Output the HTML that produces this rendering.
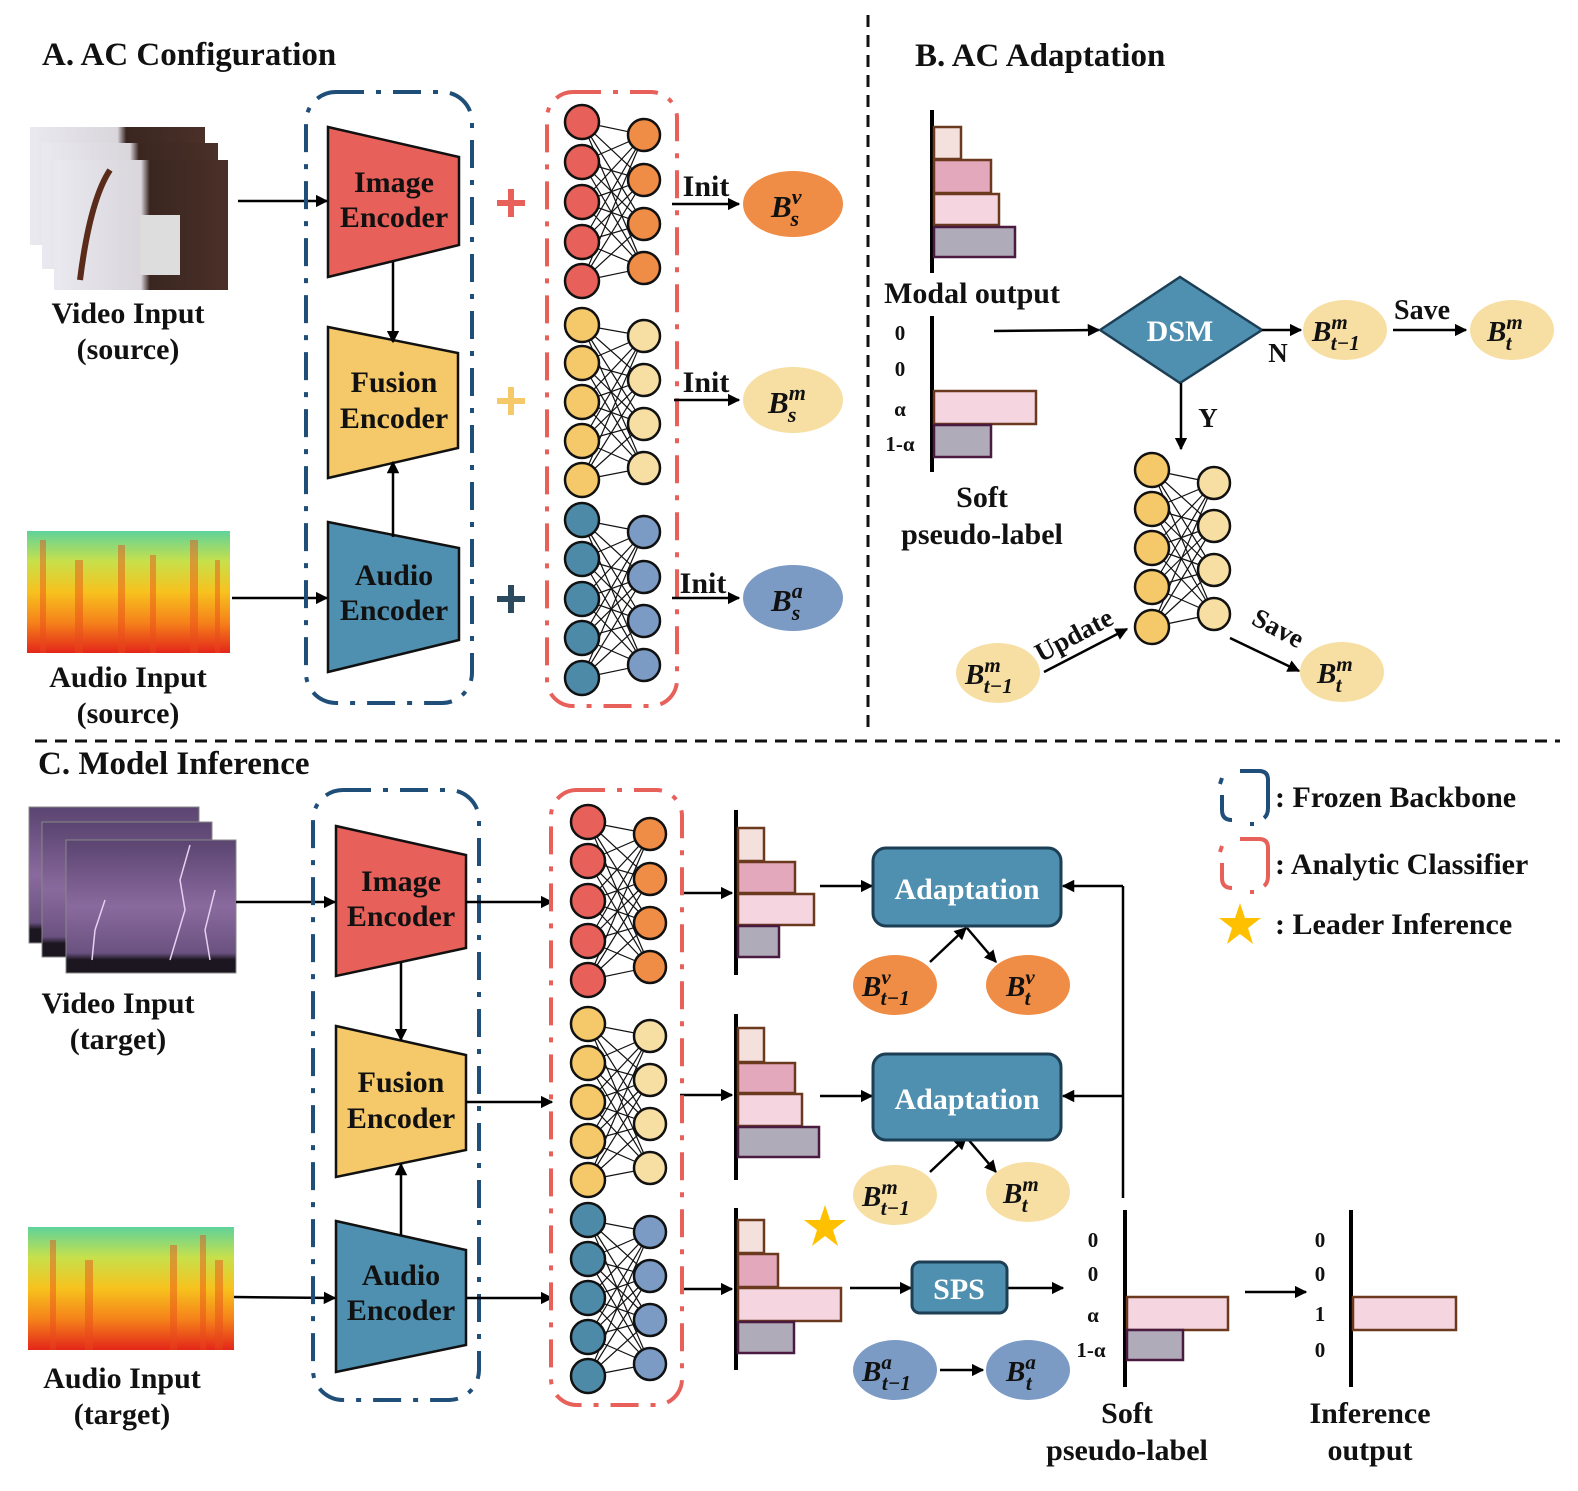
<!DOCTYPE html>
<html><head><meta charset="utf-8">
<style>
html,body{margin:0;padding:0;background:#fff;}
svg{display:block;}
text{font-family:"Liberation Serif",serif;font-weight:bold;fill:#111;}
.t{font-size:33px;}
.l{font-size:30px;}
.w{fill:#fff;}
.bi{font-style:italic;}
</style></head><body>
<svg id="s" width="1578" height="1491" viewBox="0 0 1578 1491" xmlns="http://www.w3.org/2000/svg">
<defs>
<marker id="a" viewBox="0 0 10 10" refX="9" refY="5" markerWidth="5" markerHeight="5" orient="auto"><path d="M0,0 L10,5 L0,10 z" fill="#000"/></marker>
<linearGradient id="spec" x1="0" y1="0" x2="0" y2="1">
<stop offset="0" stop-color="#5fd29a"/><stop offset="0.25" stop-color="#c8e04a"/><stop offset="0.5" stop-color="#f7c21e"/><stop offset="0.75" stop-color="#f5821a"/><stop offset="1" stop-color="#e3261a"/></linearGradient>
<linearGradient id="purp" x1="0" y1="0" x2="0" y2="1">
<stop offset="0" stop-color="#5a4470"/><stop offset="0.5" stop-color="#8a6a9e"/><stop offset="0.85" stop-color="#6a5280"/><stop offset="0.9" stop-color="#1c1620"/><stop offset="1" stop-color="#1c1620"/></linearGradient>
<linearGradient id="harp" x1="0" y1="0" x2="1" y2="0">
<stop offset="0" stop-color="#e9e9ef"/><stop offset="0.5" stop-color="#d9d6dc"/><stop offset="0.55" stop-color="#3a2620"/><stop offset="1" stop-color="#4a3028"/></linearGradient>
</defs>

<line x1="868" y1="15" x2="868" y2="735" stroke="#111" stroke-width="3" stroke-dasharray="12,8"/>
<line x1="35" y1="741" x2="1560" y2="741" stroke="#111" stroke-width="3" stroke-dasharray="12,8"/>

<!-- A -->
<text x="42" y="65" class="t">A. AC Configuration</text>
<rect x="30" y="127" width="175" height="118" fill="url(#harp)"/>
<rect x="42" y="143" width="176" height="126" fill="url(#harp)"/>
<rect x="54" y="160" width="174" height="130" fill="url(#harp)"/>
<path d="M80,280 Q90,200 110,170" stroke="#5a2a1a" stroke-width="6" fill="none"/>
<rect x="140" y="215" width="40" height="60" fill="#ddd"/>
<text x="128" y="323" class="l" text-anchor="middle">Video Input</text>
<text x="128" y="359" class="l" text-anchor="middle">(source)</text>
<rect x="27" y="531" width="203" height="122" fill="url(#spec)"/>
<g fill="#e84a1a" opacity="0.45"><rect x="40" y="540" width="6" height="113"/><rect x="75" y="560" width="8" height="93"/><rect x="118" y="545" width="7" height="108"/><rect x="150" y="555" width="6" height="98"/><rect x="190" y="540" width="8" height="113"/><rect x="215" y="560" width="5" height="93"/></g>
<text x="128" y="687" class="l" text-anchor="middle">Audio Input</text>
<text x="128" y="723" class="l" text-anchor="middle">(source)</text>
<line x1="238" y1="201" x2="327" y2="201" stroke="#000" stroke-width="2.5" marker-end="url(#a)"/>
<line x1="232" y1="598" x2="327" y2="598" stroke="#000" stroke-width="2.5" marker-end="url(#a)"/>

<rect x="306" y="92" width="166" height="611" rx="30" fill="none" stroke="#1f4e79" stroke-width="4" stroke-dasharray="28,12,5,12"/>
<polygon points="328,127 459,157 459,245 328,277" fill="#e8605a" stroke="#111" stroke-width="2.5"/>
<polygon points="328,327 458,353 458,448 328,478" fill="#f5c96a" stroke="#111" stroke-width="2.5"/>
<polygon points="328,522 459,548 459,640 328,672" fill="#4f8faf" stroke="#111" stroke-width="2.5"/>
<text x="394" y="192" class="l" text-anchor="middle">Image</text><text x="394" y="227" class="l" text-anchor="middle">Encoder</text>
<text x="394" y="392" class="l" text-anchor="middle">Fusion</text><text x="394" y="428" class="l" text-anchor="middle">Encoder</text>
<text x="394" y="585" class="l" text-anchor="middle">Audio</text><text x="394" y="620" class="l" text-anchor="middle">Encoder</text>
<line x1="393" y1="262" x2="393" y2="342" stroke="#000" stroke-width="2.5" marker-end="url(#a)"/>
<line x1="393" y1="537" x2="393" y2="462" stroke="#000" stroke-width="2.5" marker-end="url(#a)"/>
<g stroke-width="6"><path d="M497,203 h28 M511,189 v28" stroke="#e8605a"/><path d="M497,401 h28 M511,387 v28" stroke="#f5c96a"/><path d="M497,599 h28 M511,585 v28" stroke="#2b4a5e"/></g>
<rect x="547" y="92" width="130" height="614" rx="26" fill="none" stroke="#e8605a" stroke-width="4" stroke-dasharray="28,12,5,12"/>
<g id="nets"></g>
<g stroke="#000" stroke-width="2.5" marker-end="url(#a)"><line x1="672" y1="204" x2="739" y2="204"/><line x1="674" y1="400" x2="739" y2="400"/><line x1="672" y1="598" x2="739" y2="598"/></g>
<text x="706" y="196" class="l" text-anchor="middle">Init</text>
<text x="706" y="392" class="l" text-anchor="middle">Init</text>
<text x="703" y="593" class="l" text-anchor="middle">Init</text>
<ellipse cx="793" cy="204" rx="50" ry="33" fill="#ef8c45"/>
<ellipse cx="793" cy="400" rx="50" ry="33" fill="#f7dfa3"/>
<ellipse cx="793" cy="598" rx="50" ry="33" fill="#7b9bc4"/>
<text x="771" y="217" font-size="31" class="bi">B<tspan font-size="22" dy="-13">v</tspan><tspan font-size="22" dx="-11" dy="22">s</tspan></text>
<text x="768" y="413" font-size="31" class="bi">B<tspan font-size="22" dy="-13">m</tspan><tspan font-size="22" dx="-18" dy="22">s</tspan></text>
<text x="771" y="611" font-size="31" class="bi">B<tspan font-size="22" dy="-13">a</tspan><tspan font-size="22" dx="-11" dy="22">s</tspan></text>

<!-- B -->
<text x="915" y="66" class="t">B. AC Adaptation</text>
<line x1="932" y1="110" x2="932" y2="273" stroke="#000" stroke-width="4"/>
<g stroke-width="2.5">
<rect x="934" y="127" width="27" height="32" fill="#f4e0dc" stroke="#6b3a1e"/>
<rect x="934" y="160" width="57" height="33" fill="#e4a8bd" stroke="#6b3a1e"/>
<rect x="934" y="194" width="65" height="31" fill="#f4d5e0" stroke="#6b3a1e"/>
<rect x="934" y="227" width="81" height="30" fill="#afabb9" stroke="#4a1a40"/>
</g>
<text x="972" y="303" class="l" text-anchor="middle">Modal output</text>
<line x1="932" y1="316" x2="932" y2="472" stroke="#000" stroke-width="4"/>
<g font-size="21" text-anchor="middle"><text x="900" y="340">0</text><text x="900" y="376">0</text><text x="900" y="416">α</text><text x="900" y="451">1-α</text></g>
<rect x="934" y="391" width="102" height="33" fill="#f4d5e0" stroke="#6b3a1e" stroke-width="2.5"/>
<rect x="934" y="425" width="57" height="32" fill="#afabb9" stroke="#4a1a40" stroke-width="2.5"/>
<text x="982" y="507" class="l" text-anchor="middle">Soft</text>
<text x="982" y="544" class="l" text-anchor="middle">pseudo-label</text>
<line x1="994" y1="331" x2="1099" y2="330" stroke="#000" stroke-width="2.5" marker-end="url(#a)"/>
<polygon points="1100,330 1180,277 1262,330 1180,383" fill="#4f8faf" stroke="#1d3f55" stroke-width="2.5"/>
<text x="1180" y="341" font-size="30" class="w" text-anchor="middle">DSM</text>
<line x1="1262" y1="330" x2="1301" y2="330" stroke="#000" stroke-width="2.5" marker-end="url(#a)"/>
<text x="1278" y="362" font-size="27" text-anchor="middle">N</text>
<line x1="1181" y1="383" x2="1181" y2="449" stroke="#000" stroke-width="2.5" marker-end="url(#a)"/>
<text x="1208" y="427" font-size="27" text-anchor="middle">Y</text>
<ellipse cx="1345" cy="330" rx="42" ry="30" fill="#f7dfa3"/>
<text x="1312" y="341" font-size="29" class="bi">B<tspan font-size="21" dy="-12">m</tspan><tspan font-size="21" dx="-17" dy="21">t−1</tspan></text>
<text x="1422" y="319" font-size="28" text-anchor="middle">Save</text>
<line x1="1393" y1="330" x2="1466" y2="330" stroke="#000" stroke-width="2.5" marker-end="url(#a)"/>
<ellipse cx="1512" cy="330" rx="42" ry="30" fill="#f7dfa3"/>
<text x="1487" y="341" font-size="29" class="bi">B<tspan font-size="21" dy="-12">m</tspan><tspan font-size="21" dx="-17" dy="21">t</tspan></text>
<ellipse cx="998" cy="673" rx="42" ry="30" fill="#f7dfa3"/>
<text x="965" y="684" font-size="29" class="bi">B<tspan font-size="21" dy="-12">m</tspan><tspan font-size="21" dx="-17" dy="21">t−1</tspan></text>
<line x1="1044" y1="672" x2="1127" y2="629" stroke="#000" stroke-width="2.5" marker-end="url(#a)"/>
<text x="1078" y="643" font-size="27" text-anchor="middle" transform="rotate(-28 1078 643)">Update</text>
<line x1="1230" y1="638" x2="1299" y2="671" stroke="#000" stroke-width="2.5" marker-end="url(#a)"/>
<text x="1274" y="636" font-size="27" text-anchor="middle" transform="rotate(28 1274 636)">Save</text>
<ellipse cx="1342" cy="672" rx="42" ry="30" fill="#f7dfa3"/>
<text x="1317" y="683" font-size="29" class="bi">B<tspan font-size="21" dy="-12">m</tspan><tspan font-size="21" dx="-17" dy="21">t</tspan></text>

<!-- C -->
<text x="38" y="774" class="t">C. Model Inference</text>
<rect x="29" y="807" width="170" height="136" fill="url(#purp)" stroke="#888"/>
<rect x="42" y="822" width="170" height="135" fill="url(#purp)" stroke="#888"/>
<rect x="66" y="840" width="170" height="133" fill="url(#purp)" stroke="#888"/>
<g stroke="#e6d0f0" stroke-width="1.5" fill="none"><path d="M190,845 L180,880 L185,910 L170,960"/><path d="M105,900 L95,930 L92,960"/><path d="M215,890 L205,930 L210,960"/></g>
<text x="118" y="1013" class="l" text-anchor="middle">Video Input</text>
<text x="118" y="1049" class="l" text-anchor="middle">(target)</text>
<rect x="28" y="1227" width="206" height="123" fill="url(#spec)"/>
<g fill="#e84a1a" opacity="0.45"><rect x="50" y="1240" width="6" height="110"/><rect x="85" y="1260" width="8" height="90"/><rect x="170" y="1245" width="7" height="105"/><rect x="200" y="1235" width="6" height="115"/><rect x="215" y="1260" width="8" height="90"/></g>
<text x="122" y="1388" class="l" text-anchor="middle">Audio Input</text>
<text x="122" y="1424" class="l" text-anchor="middle">(target)</text>
<line x1="236" y1="902" x2="335" y2="902" stroke="#000" stroke-width="2.5" marker-end="url(#a)"/>
<line x1="234" y1="1297" x2="335" y2="1298" stroke="#000" stroke-width="2.5" marker-end="url(#a)"/>
<rect x="313" y="790" width="166" height="610" rx="30" fill="none" stroke="#1f4e79" stroke-width="4" stroke-dasharray="28,12,5,12"/>
<polygon points="336,826 466,855 466,948 336,976" fill="#e8605a" stroke="#111" stroke-width="2.5"/>
<polygon points="336,1026 466,1055 466,1150 336,1177" fill="#f5c96a" stroke="#111" stroke-width="2.5"/>
<polygon points="336,1221 466,1250 466,1345 336,1372" fill="#4f8faf" stroke="#111" stroke-width="2.5"/>
<text x="401" y="891" class="l" text-anchor="middle">Image</text><text x="401" y="926" class="l" text-anchor="middle">Encoder</text>
<text x="401" y="1092" class="l" text-anchor="middle">Fusion</text><text x="401" y="1128" class="l" text-anchor="middle">Encoder</text>
<text x="401" y="1285" class="l" text-anchor="middle">Audio</text><text x="401" y="1320" class="l" text-anchor="middle">Encoder</text>
<line x1="401" y1="962" x2="401" y2="1040" stroke="#000" stroke-width="2.5" marker-end="url(#a)"/>
<line x1="401" y1="1235" x2="401" y2="1164" stroke="#000" stroke-width="2.5" marker-end="url(#a)"/>
<g stroke="#000" stroke-width="2.5" marker-end="url(#a)">
<line x1="466" y1="902" x2="552" y2="902"/><line x1="466" y1="1102" x2="552" y2="1102"/><line x1="466" y1="1298" x2="552" y2="1298"/>
<line x1="680" y1="893" x2="732" y2="893"/><line x1="680" y1="1095" x2="732" y2="1095"/><line x1="680" y1="1289" x2="732" y2="1289"/>
<line x1="820" y1="886" x2="872" y2="886"/><line x1="820" y1="1096" x2="872" y2="1096"/><line x1="850" y1="1288" x2="911" y2="1288"/>
<line x1="1007" y1="1288" x2="1063" y2="1288"/>
<line x1="930" y1="962" x2="966" y2="928"/><line x1="967" y1="928" x2="996" y2="962"/>
<line x1="930" y1="1172" x2="966" y2="1138"/><line x1="967" y1="1138" x2="996" y2="1172"/>
<line x1="940" y1="1370" x2="983" y2="1370"/>
<line x1="1123" y1="886" x2="1063" y2="886"/><line x1="1123" y1="1096" x2="1063" y2="1096"/>
<line x1="1245" y1="1292" x2="1306" y2="1292"/>
</g>
<line x1="1123" y1="1198" x2="1123" y2="886" stroke="#000" stroke-width="2.5"/>
<rect x="551" y="790" width="131" height="615" rx="26" fill="none" stroke="#e8605a" stroke-width="4" stroke-dasharray="28,12,5,12"/>

<g stroke-width="2.5">
<line x1="736" y1="810" x2="736" y2="975" stroke="#000" stroke-width="4"/>
<rect x="738" y="828" width="26" height="33" fill="#f4e0dc" stroke="#6b3a1e"/>
<rect x="738" y="862" width="57" height="31" fill="#e4a8bd" stroke="#6b3a1e"/>
<rect x="738" y="894" width="76" height="31" fill="#f4d5e0" stroke="#6b3a1e"/>
<rect x="738" y="926" width="41" height="31" fill="#afabb9" stroke="#4a1a40"/>
<line x1="736" y1="1014" x2="736" y2="1180" stroke="#000" stroke-width="4"/>
<rect x="738" y="1028" width="26" height="34" fill="#f4e0dc" stroke="#6b3a1e"/>
<rect x="738" y="1063" width="57" height="30" fill="#e4a8bd" stroke="#6b3a1e"/>
<rect x="738" y="1094" width="64" height="32" fill="#f4d5e0" stroke="#6b3a1e"/>
<rect x="738" y="1127" width="81" height="30" fill="#afabb9" stroke="#4a1a40"/>
<line x1="736" y1="1208" x2="736" y2="1370" stroke="#000" stroke-width="4"/>
<rect x="738" y="1220" width="26" height="33" fill="#f4e0dc" stroke="#6b3a1e"/>
<rect x="738" y="1254" width="40" height="33" fill="#e4a8bd" stroke="#6b3a1e"/>
<rect x="738" y="1288" width="103" height="33" fill="#f4d5e0" stroke="#6b3a1e"/>
<rect x="738" y="1322" width="56" height="31" fill="#afabb9" stroke="#4a1a40"/>
</g>
<rect x="873" y="848" width="188" height="78" rx="13" fill="#4f8faf" stroke="#1d3f55" stroke-width="3"/>
<rect x="873" y="1054" width="188" height="86" rx="13" fill="#4f8faf" stroke="#1d3f55" stroke-width="3"/>
<text x="967" y="899" font-size="30" class="w" text-anchor="middle">Adaptation</text>
<text x="967" y="1109" font-size="30" class="w" text-anchor="middle">Adaptation</text>
<rect x="912" y="1262" width="95" height="51" rx="8" fill="#4f8faf" stroke="#1d3f55" stroke-width="3"/>
<text x="959" y="1299" font-size="30" class="w" text-anchor="middle">SPS</text>
<polygon points="825,1205 830,1220 846,1220 833,1230 838,1246 825,1236 812,1246 817,1230 804,1220 820,1220" fill="#ffc000"/>

<ellipse cx="895" cy="985" rx="42" ry="30" fill="#ef8c45"/>
<text x="862" y="996" font-size="29" class="bi">B<tspan font-size="21" dy="-12">v</tspan><tspan font-size="21" dx="-10" dy="21">t−1</tspan></text>
<ellipse cx="1028" cy="985" rx="42" ry="30" fill="#ef8c45"/>
<text x="1006" y="996" font-size="29" class="bi">B<tspan font-size="21" dy="-12">v</tspan><tspan font-size="21" dx="-10" dy="21">t</tspan></text>
<ellipse cx="895" cy="1195" rx="42" ry="30" fill="#f7dfa3"/>
<text x="862" y="1206" font-size="29" class="bi">B<tspan font-size="21" dy="-12">m</tspan><tspan font-size="21" dx="-17" dy="21">t−1</tspan></text>
<ellipse cx="1028" cy="1192" rx="42" ry="30" fill="#f7dfa3"/>
<text x="1003" y="1203" font-size="29" class="bi">B<tspan font-size="21" dy="-12">m</tspan><tspan font-size="21" dx="-17" dy="21">t</tspan></text>
<ellipse cx="895" cy="1370" rx="42" ry="30" fill="#7b9bc4"/>
<text x="862" y="1381" font-size="29" class="bi">B<tspan font-size="21" dy="-12">a</tspan><tspan font-size="21" dx="-10" dy="21">t−1</tspan></text>
<ellipse cx="1028" cy="1370" rx="42" ry="30" fill="#7b9bc4"/>
<text x="1006" y="1381" font-size="29" class="bi">B<tspan font-size="21" dy="-12">a</tspan><tspan font-size="21" dx="-10" dy="21">t</tspan></text>

<line x1="1125" y1="1210" x2="1125" y2="1387" stroke="#000" stroke-width="4"/>
<g font-size="21" text-anchor="middle"><text x="1093" y="1247">0</text><text x="1093" y="1281">0</text><text x="1093" y="1322">α</text><text x="1091" y="1357">1-α</text>
<text x="1320" y="1247">0</text><text x="1320" y="1281">0</text><text x="1320" y="1321">1</text><text x="1320" y="1357">0</text></g>
<rect x="1127" y="1297" width="101" height="33" fill="#f4d5e0" stroke="#6b3a1e" stroke-width="2.5"/>
<rect x="1127" y="1330" width="56" height="30" fill="#afabb9" stroke="#4a1a40" stroke-width="2.5"/>
<text x="1127" y="1423" class="l" text-anchor="middle">Soft</text>
<text x="1127" y="1460" class="l" text-anchor="middle">pseudo-label</text>
<line x1="1351" y1="1210" x2="1351" y2="1387" stroke="#000" stroke-width="4"/>
<rect x="1353" y="1297" width="103" height="33" fill="#f4d5e0" stroke="#6b3a1e" stroke-width="2.5"/>
<text x="1370" y="1423" class="l" text-anchor="middle">Inference</text>
<text x="1370" y="1460" class="l" text-anchor="middle">output</text>

<!-- legend -->
<path d="M1222,778 L1220,784 M1222,795 L1222,810 Q1222,820 1232,820 M1252,822 L1252,826 M1264,818 Q1268,815 1268,808 L1268,780 Q1268,771 1259,771 L1240,771" fill="none" stroke="#1f4e79" stroke-width="4"/>
<path d="M1222,846 L1220,852 M1222,863 L1222,878 Q1222,888 1232,888 M1252,890 L1252,894 M1264,886 Q1268,883 1268,876 L1268,848 Q1268,839 1259,839 L1240,839" fill="none" stroke="#e8605a" stroke-width="4"/>
<text x="1275" y="807" font-size="30">: Frozen Backbone</text>
<text x="1275" y="874" font-size="30">: Analytic Classifier</text>
<polygon points="1240,903 1245,918 1261,918 1248,928 1253,944 1240,934 1227,944 1232,928 1219,918 1235,918" fill="#ffc000"/>
<text x="1275" y="934" font-size="30">: Leader Inference</text>
</svg>
<script>
(function(){
var g=document.getElementById('nets');var NS='http://www.w3.org/2000/svg';
function el(n,a){var e=document.createElementNS(NS,n);for(var k in a)e.setAttribute(k,a[k]);g.appendChild(e);}
function net(lx,ly,rx,ry,lc,rc){
 ly.forEach(function(a){ry.forEach(function(b){el('line',{x1:lx,y1:a,x2:rx,y2:b,stroke:'#111','stroke-width':1.2});});});
 ly.forEach(function(a){el('circle',{cx:lx,cy:a,r:17,fill:lc,stroke:'#111','stroke-width':2.5});});
 ry.forEach(function(b){el('circle',{cx:rx,cy:b,r:16,fill:rc,stroke:'#111','stroke-width':2.5});});
}
net(582,[122,162,202,242,281],644,[135,180,224,268],'#e8605a','#ef8c45');
net(582,[325,363,402,441,480],644,[336,380,424,468],'#f5c96a','#f7dfa3');
net(582,[520,559,599,638,678],644,[532,577,621,665],'#4d8aa8','#7b9bc4');
net(1152,[470,509,548,587,627],1214,[483,526,570,614],'#f5c96a','#f7dfa3');
net(588,[822,861,901,941,980],650,[834,879,923,967],'#e8605a','#ef8c45');
net(588,[1024,1063,1102,1141,1180],650,[1036,1080,1124,1168],'#f5c96a','#f7dfa3');
net(588,[1220,1259,1298,1337,1376],650,[1232,1276,1320,1364],'#4d8aa8','#7b9bc4');
})();
</script>
</body></html>
